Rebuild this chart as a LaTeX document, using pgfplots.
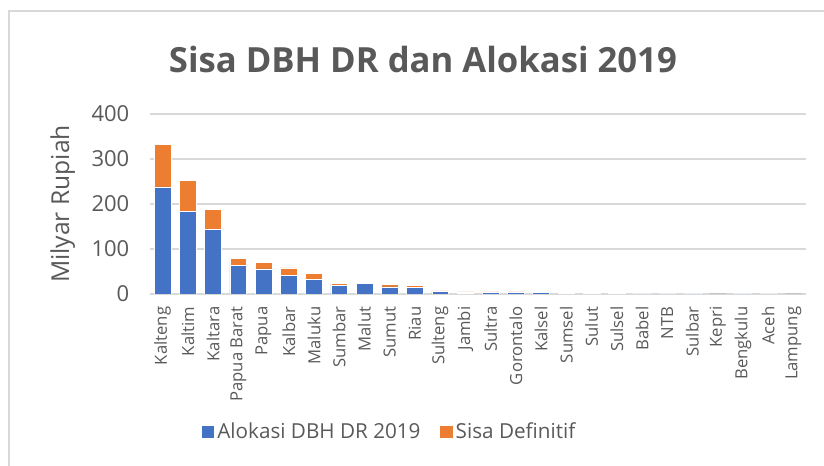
\documentclass[border=0pt]{standalone}
\usepackage{pgfplots}
\pgfplotsset{compat=1.18}
\usepackage{pgfplotstable}
\usepackage{fontspec}
\setmainfont{Open Sans}

\definecolor{cblue}{HTML}{4472C4}
\definecolor{corange}{HTML}{ED7D31}
\definecolor{cgrid}{HTML}{D9D9D9}
\definecolor{ctext}{HTML}{595959}

% idx alokasi sisa
\pgfplotstableread{
x alokasi sisa
0 238 95
1 183 70
2 144 44
3 63 16
4 56 14
5 41 17
6 33 13
7 19 5
8 23 1
9 16 5
10 14 5
11 5 2
12 2 2.5
13 4 0.5
14 4 0.5
15 3 0.3
16 1 2
17 1.5 0.2
18 1.5 0.2
19 0.3 1
20 0.5 0.2
21 0.3 1
22 0.3 0.2
23 0.3 0.5
24 0.3 0.5
25 0.2 0.2
}\datatable

\begin{document}
\begin{tikzpicture}
\path[use as bounding box] (0,0) rectangle (618pt,349.5pt);
\draw[cgrid, line width=0.9pt] (6.75pt,-5pt) -- (6.75pt,341.25pt) -- (625pt,341.25pt);
\begin{axis}[
    at={(112.5pt,129pt)}, anchor=south west,
    scale only axis,
    width=492pt, height=135pt,
    ybar stacked,
    bar width=12.5pt,
    xmin=-0.5, xmax=25.5,
    ymin=0, ymax=400,
    ytick={0,100,200,300,400},
    xtick=data,
    xticklabels={Kalteng,Kaltim,Kaltara,Papua Barat,Papua,Kalbar,Maluku,Sumbar,Malut,Sumut,Riau,Sulteng,Jambi,Sultra,Gorontalo,Kalsel,Sumsel,Sulut,Sulsel,Babel,NTB,Sulbar,Kepri,Bengkulu,Aceh,Lampung},
    xticklabel style={yshift=-6pt, rotate=90, anchor=east, font=\fontsize{12.5}{14}\selectfont, text=ctext},
    yticklabel style={font=\fontsize{16.5}{18}\selectfont, text=ctext, xshift=-12pt},
    /pgf/number format/assume math mode=true,
    major tick length=0pt,
    axis line style={draw=none},
    ymajorgrids,
    grid style={cgrid, line width=0.9pt},
    title={Sisa DBH DR dan Alokasi 2019},
    title style={at={(axis description cs:0.416,1.26)}, anchor=center, font=\fontsize{26}{30}\selectfont\bfseries, text=ctext},
    ylabel={Milyar Rupiah},
    ylabel style={at={(axis description cs:-0.133,0.5)}, anchor=center, font=\fontsize{18.5}{20}\selectfont, text=ctext},
    legend style={at={(axis description cs:0.365,-0.767)}, anchor=center, draw=none, fill=none,
        legend columns=2, font=\fontsize{15.5}{18}\selectfont, text=ctext,
        /tikz/every even column/.append style={column sep=12pt}},
    legend image code/.code={\fill[#1] (0pt,-5pt) rectangle (10pt,5pt);},
]
\addplot[fill=cblue, draw=white, line width=0.4pt] table[x=x, y=alokasi] {\datatable};
\addplot[fill=corange, draw=white, line width=0.4pt] table[x=x, y=sisa] {\datatable};
\legend{Alokasi DBH DR 2019, Sisa Definitif}
\end{axis}
\end{tikzpicture}
\end{document}
